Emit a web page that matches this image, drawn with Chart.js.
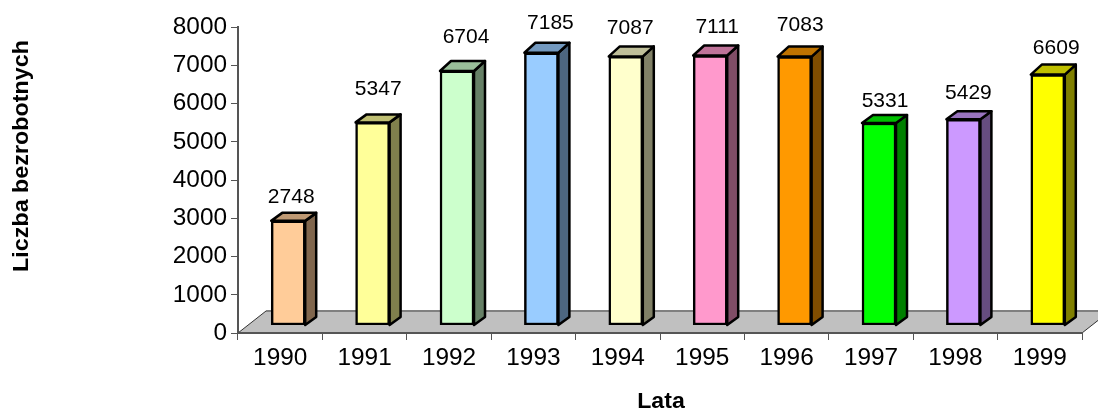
<!DOCTYPE html>
<html>
<head>
<meta charset="utf-8">
<title>Liczba bezrobotnych</title>
<script src="https://cdn.jsdelivr.net/npm/chart.js@4/dist/chart.umd.min.js"></script>
<style>
  body { margin: 0; background: #fff; }
  #wrap { width: 1098px; height: 412px; }
</style>
</head>
<body>
<div id="wrap"><canvas id="chart" width="1098" height="412"></canvas></div>
<script>
const years = ['1990', '1991', '1992', '1993', '1994', '1995', '1996', '1997', '1998', '1999'];
const unemployed = [2748, 5347, 6704, 7185, 7087, 7111, 7083, 5331, 5429, 6609];
const barColors = ['#FFCC99', '#FFFF99', '#CCFFCC', '#99CCFF', '#FFFFCC', '#FF99CC', '#FF9900', '#00FF00', '#CC99FF', '#FFFF00'];
const yTicks = [0, 1000, 2000, 3000, 4000, 5000, 6000, 7000, 8000];

// przesuniecia etykiet wzgledem gornej krawedzi slupka
const labelShiftX = [3, 5.6, 9, 9, 4.4, 7, 5.6, 6, 5, 8.4];
const labelLift = [24, 33, 34, 30, 28, 28.5, 31, 22, 26, 26.5];

const fontName = "'Liberation Sans', Arial, sans-serif";
const barShift = { x: 8, y: -8 };   // slupki stoja w glebi podlogi
const barDepth = { x: 11, low: -8, high: -10 };  // boczna i gorna sciana
const floorDepth = { x: 28, y: -22 };

function shade(hex, f) {
    const n = parseInt(hex.slice(1), 16);
    const c = [n >> 16, (n >> 8) & 255, n & 255].map(v => Math.round(v * f));
    return 'rgb(' + c.join(',') + ')';
}

function face(ctx, pts, fill) {
    ctx.beginPath();
    pts.forEach((p, i) => i ? ctx.lineTo(p[0], p[1]) : ctx.moveTo(p[0], p[1]));
    ctx.closePath();
    ctx.fillStyle = fill;
    ctx.fill();
    ctx.stroke();
}

// tekst na oryginale jest rozciagniety w poziomie
function wideText(ctx, text, x, y, font, stretch, align) {
    ctx.save();
    ctx.font = font;
    ctx.textAlign = align;
    ctx.textBaseline = 'middle';
    ctx.translate(x, y);
    ctx.scale(stretch, 1);
    ctx.fillText(text, 0, 0);
    ctx.restore();
}

const floorPlugin = {
    id: 'floor',
    beforeDraw(chart) {
        const { ctx, chartArea: a } = chart;
        ctx.save();
        ctx.fillStyle = '#fff';
        ctx.fillRect(0, 0, chart.width, chart.height);
        ctx.beginPath();
        ctx.moveTo(a.left, a.bottom);
        ctx.lineTo(a.left + floorDepth.x, a.bottom + floorDepth.y);
        ctx.lineTo(a.right + floorDepth.x, a.bottom + floorDepth.y);
        ctx.lineTo(a.right, a.bottom);
        ctx.closePath();
        ctx.fillStyle = '#C0C0C0';
        ctx.fill();
        ctx.lineWidth = 1;
        ctx.strokeStyle = '#333';
        ctx.stroke();
        ctx.beginPath();
        ctx.moveTo(a.left + floorDepth.x, a.bottom + floorDepth.y);
        ctx.lineTo(a.right + floorDepth.x, a.bottom + floorDepth.y);
        ctx.lineWidth = 2;
        ctx.strokeStyle = '#808080';
        ctx.stroke();
        ctx.restore();
    }
};

const boxPlugin = {
    id: 'box3d',
    beforeDatasetDraw(chart) {
        const ctx = chart.ctx;
        ctx.save();
        ctx.translate(barShift.x, barShift.y);
        ctx.lineWidth = 2.5;
        ctx.strokeStyle = '#000';
        ctx.lineJoin = 'round';
        chart.getDatasetMeta(0).data.forEach((bar, i) => {
            const l = bar.x - bar.width / 2, r = bar.x + bar.width / 2;
            const dx = barDepth.x, dy = unemployed[i] > 6000 ? barDepth.high : barDepth.low;
            face(ctx, [[r, bar.y], [r + dx, bar.y + dy], [r + dx, bar.base + barDepth.low], [r, bar.base]], shade(barColors[i], 0.5));
            face(ctx, [[l, bar.y], [l + dx, bar.y + dy], [r + dx, bar.y + dy], [r, bar.y]], shade(barColors[i], 0.75));
        });
    },
    afterDatasetDraw(chart) {
        chart.ctx.restore();
    },
    afterDraw(chart) {
        const ctx = chart.ctx;
        const { x: xScale, y: yScale } = chart.scales;
        const tickFont = '23px ' + fontName;
        const titleFont = 'bold 22px ' + fontName;
        ctx.save();
        ctx.fillStyle = '#000';
        ctx.textAlign = 'center';
        ctx.textBaseline = 'middle';
        ctx.font = '21px ' + fontName;
        chart.getDatasetMeta(0).data.forEach((bar, i) => {
            ctx.fillText(unemployed[i], bar.x + barShift.x + labelShiftX[i], bar.y + barShift.y - labelLift[i]);
        });
        yTicks.forEach(v => wideText(ctx, String(v), 227, yScale.getPixelForValue(v) + 0.5, tickFont, 1.06, 'right'));
        years.forEach((y, i) => wideText(ctx, y, xScale.getPixelForValue(i), 359, tickFont, 1.06, 'center'));
        wideText(ctx, 'Lata', (xScale.left + xScale.right) / 2 + 1, 401.5, titleFont, 1.05, 'center');
        // opis osi Y nie jest wysrodkowany na osi
        ctx.translate(22, 156);
        ctx.rotate(-Math.PI / 2);
        wideText(ctx, 'Liczba bezrobotnych', 0, 0, titleFont, 1.06, 'center');
        ctx.restore();
    }
};

new Chart(document.getElementById('chart'), {
    type: 'bar',
    data: {
        labels: years,
        datasets: [{
            data: unemployed,
            yAxisID: 'yBars',
            backgroundColor: barColors,
            borderColor: '#000',
            borderWidth: 2.5,
            borderSkipped: false,
            barThickness: 34
        }]
    },
    options: {
        responsive: false,
        animation: false,
        layout: { padding: { top: 27, right: 16, left: 0, bottom: 0 } },
        plugins: { legend: { display: false }, tooltip: { enabled: false } },
        scales: {
            x: {
                afterFit(scale) { scale.height = 79; },
                border: { color: '#555', width: 2 },
                grid: { offset: true, drawOnChartArea: false, tickLength: 7, color: '#555' },
                ticks: { display: false }
            },
            y: {
                min: 0,
                max: 8000,
                afterFit(scale) { scale.width = 238; },
                afterBuildTicks(scale) { scale.ticks = yTicks.map(v => ({ value: v })); },
                border: { color: '#555', width: 2 },
                grid: { drawOnChartArea: false, tickLength: 7, color: '#555' },
                ticks: { display: false }
            },
            // slupki w perspektywie sa nieco nizsze niz wskazuje os
            yBars: { display: false, min: 0, max: 8075 }
        }
    },
    plugins: [floorPlugin, boxPlugin]
});
</script>
</body>
</html>
